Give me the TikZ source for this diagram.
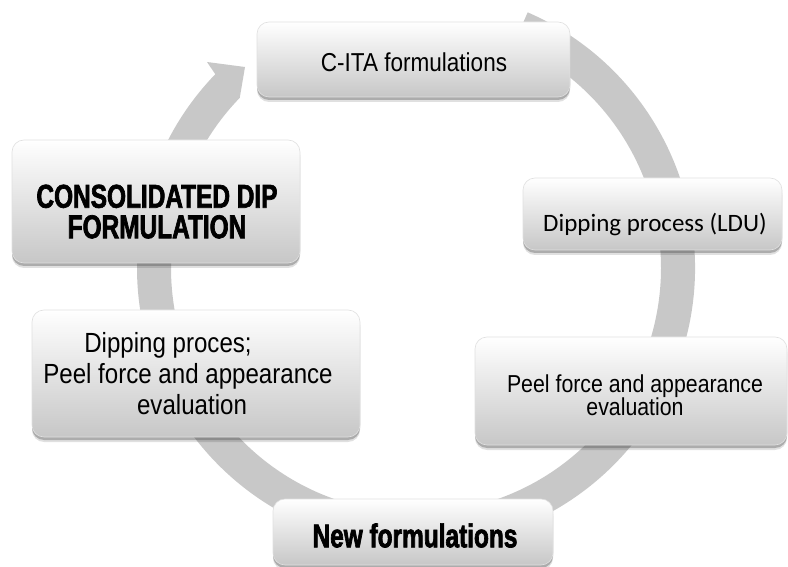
\documentclass[tikz,border=0pt]{standalone}
\usepackage{fontspec}
\setmainfont{Liberation Sans}
\newfontfamily\narrowfont[FakeStretch=0.87]{Liberation Sans}
\newfontfamily\heavyfont[FakeStretch=0.74,FakeBold=2]{Liberation Sans Bold}
\newfontfamily\calfont{Carlito}
\usetikzlibrary{shadows,calc}
\definecolor{ringgray}{RGB}{200,200,200}
\tikzset{
  card/.style={rounded corners=12pt, draw=black!12, line width=0.6pt, inner sep=0pt,
    top color=white, middle color=white, bottom color=black!22,
    drop shadow={shadow xshift=0pt, shadow yshift=-5pt, opacity=0.12, fill=black},
    drop shadow={shadow xshift=0pt, shadow yshift=-3pt, opacity=0.35, fill=black!70}},
  cardtext/.style={inner sep=0pt, align=center, text=black}
}
\begin{document}
\begin{tikzpicture}[x=1pt,y=1pt]
\useasboundingbox (0,0) rectangle (788,566);
\fill[white] (0,0) rectangle (788,566);
% ring arrow
\coordinate (C) at (416,298);
\coordinate (barbout) at (207,504);
\coordinate (tip) at (245,499);
\fill[ringgray] ([shift={(66.4:279)}]C) arc[start angle=66.4, end angle=-224, radius=279]
  -- (barbout) -- (tip) -- ([shift={(-224:245)}]C)
  arc[start angle=-224, end angle=66.4, radius=245] -- cycle;
% boxes
\node[card, minimum width=313pt, minimum height=75pt] (b1) at (413.5,506.5) {};
\node[card, minimum width=259pt, minimum height=72pt] (b2) at (652.5,352) {};
\node[card, minimum width=312pt, minimum height=108pt] (b3) at (631,175) {};
\node[card, minimum width=328pt, minimum height=127pt] (b4) at (196,192.5) {};
\node[card, minimum width=288pt, minimum height=123pt] (b5) at (156,364.5) {};
\node[card, minimum width=280pt, minimum height=66pt] (b6) at (413,34) {};
% texts
\node[cardtext, font=\narrowfont\fontsize{25.9}{28}\selectfont] (t1) at (414,503.3) {C-ITA formulations};
\node[cardtext, font=\calfont\fontsize{25}{28}\selectfont] (t2) at (655,341) {Dipping process (LDU)};
\node[cardtext, font=\narrowfont\fontsize{24.5}{23.5}\selectfont] (t3) at (635,171) {Peel force and appearance\\ evaluation};
\node[cardtext, font=\narrowfont\fontsize{27.7}{31}\selectfont] (t4) at (188,192.9) {Dipping proces;\rule{40pt}{0pt}\\ Peel force and appearance\\ \rule{8pt}{0pt}evaluation};
\node[cardtext, font=\heavyfont\fontsize{33}{30.5}\selectfont] (t5) at (157,354.4) {CONSOLIDATED DIP\\ FORMULATION};
\node[cardtext, font=\heavyfont\fontsize{33}{32}\selectfont] (t6) at (415,30.5) {New formulations};
\end{tikzpicture}
\end{document}
